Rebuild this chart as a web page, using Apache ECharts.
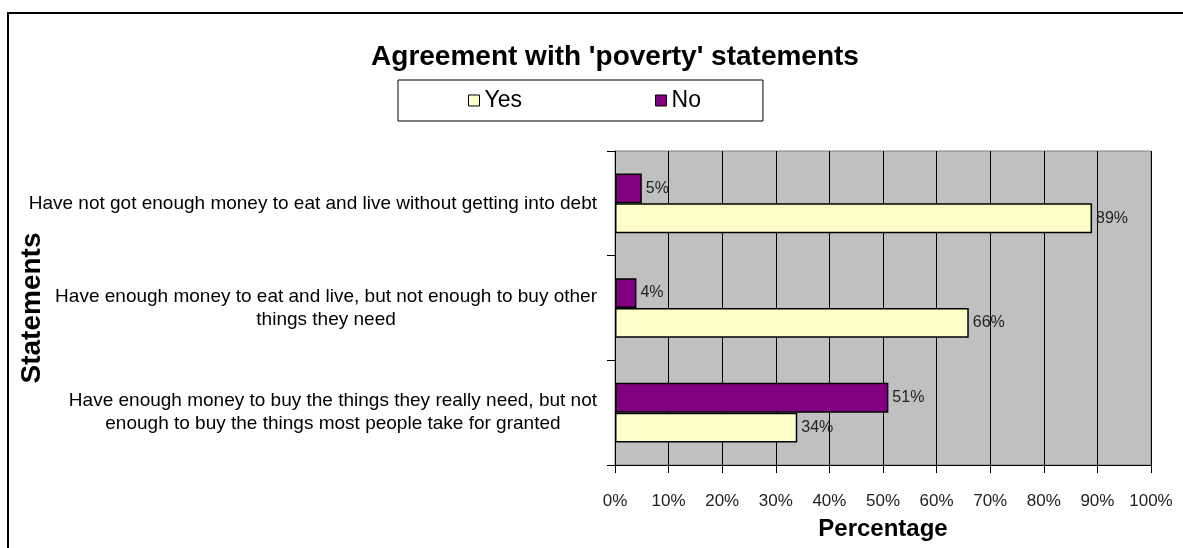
<!DOCTYPE html>
<html>
<head>
<meta charset="utf-8">
<title>Agreement with 'poverty' statements</title>
<script src="https://cdn.jsdelivr.net/npm/echarts@6/dist/echarts.min.js"></script>
<style>
  html, body { margin: 0; padding: 0; background: #ffffff; }
  #chart { width: 1183px; height: 548px; }
</style>
</head>
<body>
<div id="chart"></div>
<script>
// Statements, listed top to bottom
const statements = [
  "Have not got enough money to eat and live without getting into debt",
  "Have enough money to eat and live, but not enough to buy other\nthings they need",
  "Have enough money to buy the things they really need, but not\nenough to buy the things most people take for granted"
];
// Percentage answering each way, same order as statements
const yesValues = [89, 66, 34];
const noValues = [5, 4, 51];

const SANS = "'Liberation Sans', Arial, Helvetica, sans-serif";

const chart = echarts.init(document.getElementById('chart'), null, { renderer: 'canvas' });

const barLabel = {
  show: true,
  position: 'right',
  distance: 4,
  formatter: '{c}%',
  fontFamily: SANS,
  fontSize: 16,
  color: '#222'
};

chart.setOption({
  animation: false,
  backgroundColor: '#ffffff',
  title: {
    text: "Agreement with 'poverty' statements",
    left: 610,
    top: 38,
    textAlign: 'center',
    textStyle: { fontFamily: SANS, fontWeight: 'bold', fontSize: 28, color: '#000' }
  },
  legend: {
    data: ['Yes', 'No'],
    left: 398,
    top: 80,
    orient: 'horizontal',
    icon: 'rect',
    itemWidth: 11,
    itemHeight: 11,
    itemGap: 133,
    padding: [9, 62, 9, 70],
    borderColor: '#000',
    borderWidth: 1,
    backgroundColor: '#ffffff',
    itemStyle: { borderColor: '#000', borderWidth: 1 },
    textStyle: { fontFamily: SANS, fontSize: 23, color: '#000' }
  },
  grid: {
    left: 615,
    right: 32,
    top: 151,
    bottom: 83,
    outerBoundsMode: 'none',
    containLabel: false,
    show: true,
    backgroundColor: '#c0c0c0',
    borderColor: '#808080',
    borderWidth: 1
  },
  xAxis: {
    type: 'value',
    min: 0,
    max: 100,
    interval: 10,
    name: 'Percentage',
    nameLocation: 'middle',
    nameGap: 52,
    nameMoveOverlap: false,
    nameTextStyle: { fontFamily: SANS, fontWeight: 'bold', fontSize: 24, color: '#000' },
    axisLine: { show: true, lineStyle: { color: '#000', width: 1 } },
    axisTick: { show: true, length: 8, lineStyle: { color: '#000' } },
    axisLabel: {
      formatter: '{value}%',
      margin: 28,
      hideOverlap: false,
      showMaxLabel: true,
      showMinLabel: true,
      fontFamily: SANS,
      fontSize: 17,
      color: '#222'
    },
    splitLine: { show: true, lineStyle: { color: '#000', width: 1 } }
  },
  yAxis: {
    type: 'category',
    inverse: true,
    data: statements,
    name: 'Statements',
    nameLocation: 'middle',
    nameGap: 569,
    nameMoveOverlap: false,
    nameRotate: 90,
    nameTextStyle: { fontFamily: SANS, fontWeight: 'bold', fontSize: 28, color: '#000' },
    axisLine: { show: true, lineStyle: { color: '#000', width: 1 } },
    axisTick: { show: true, length: 8, inside: false, alignWithLabel: false, lineStyle: { color: '#000' } },
    axisLabel: {
      margin: 18,
      align: 'right',
      formatter: function (v) {
        return v.split('\n').map(function (line) { return '{s|' + line + '}'; }).join('\n');
      },
      rich: {
        s: { align: 'center', fontFamily: SANS, fontSize: 19, lineHeight: 23, color: '#000' }
      }
    },
    splitLine: { show: false }
  },
  series: [
    {
      name: 'No',
      type: 'bar',
      data: noValues,
      barGap: '0%',
      barCategoryGap: '43%',
      itemStyle: { color: '#800080', borderColor: '#000', borderWidth: 1.5 },
      label: barLabel,
      z: 3
    },
    {
      name: 'Yes',
      type: 'bar',
      data: yesValues,
      barGap: '0%',
      barCategoryGap: '43%',
      itemStyle: { color: '#ffffcc', borderColor: '#000', borderWidth: 1.5 },
      label: barLabel,
      z: 3
    }
  ],
  graphic: [
    {
      type: 'rect',
      silent: true,
      z: 100,
      shape: { x: 8, y: 13, width: 1200, height: 600 },
      style: { fill: 'none', stroke: '#000', lineWidth: 2 }
    }
  ]
});
</script>
</body>
</html>
